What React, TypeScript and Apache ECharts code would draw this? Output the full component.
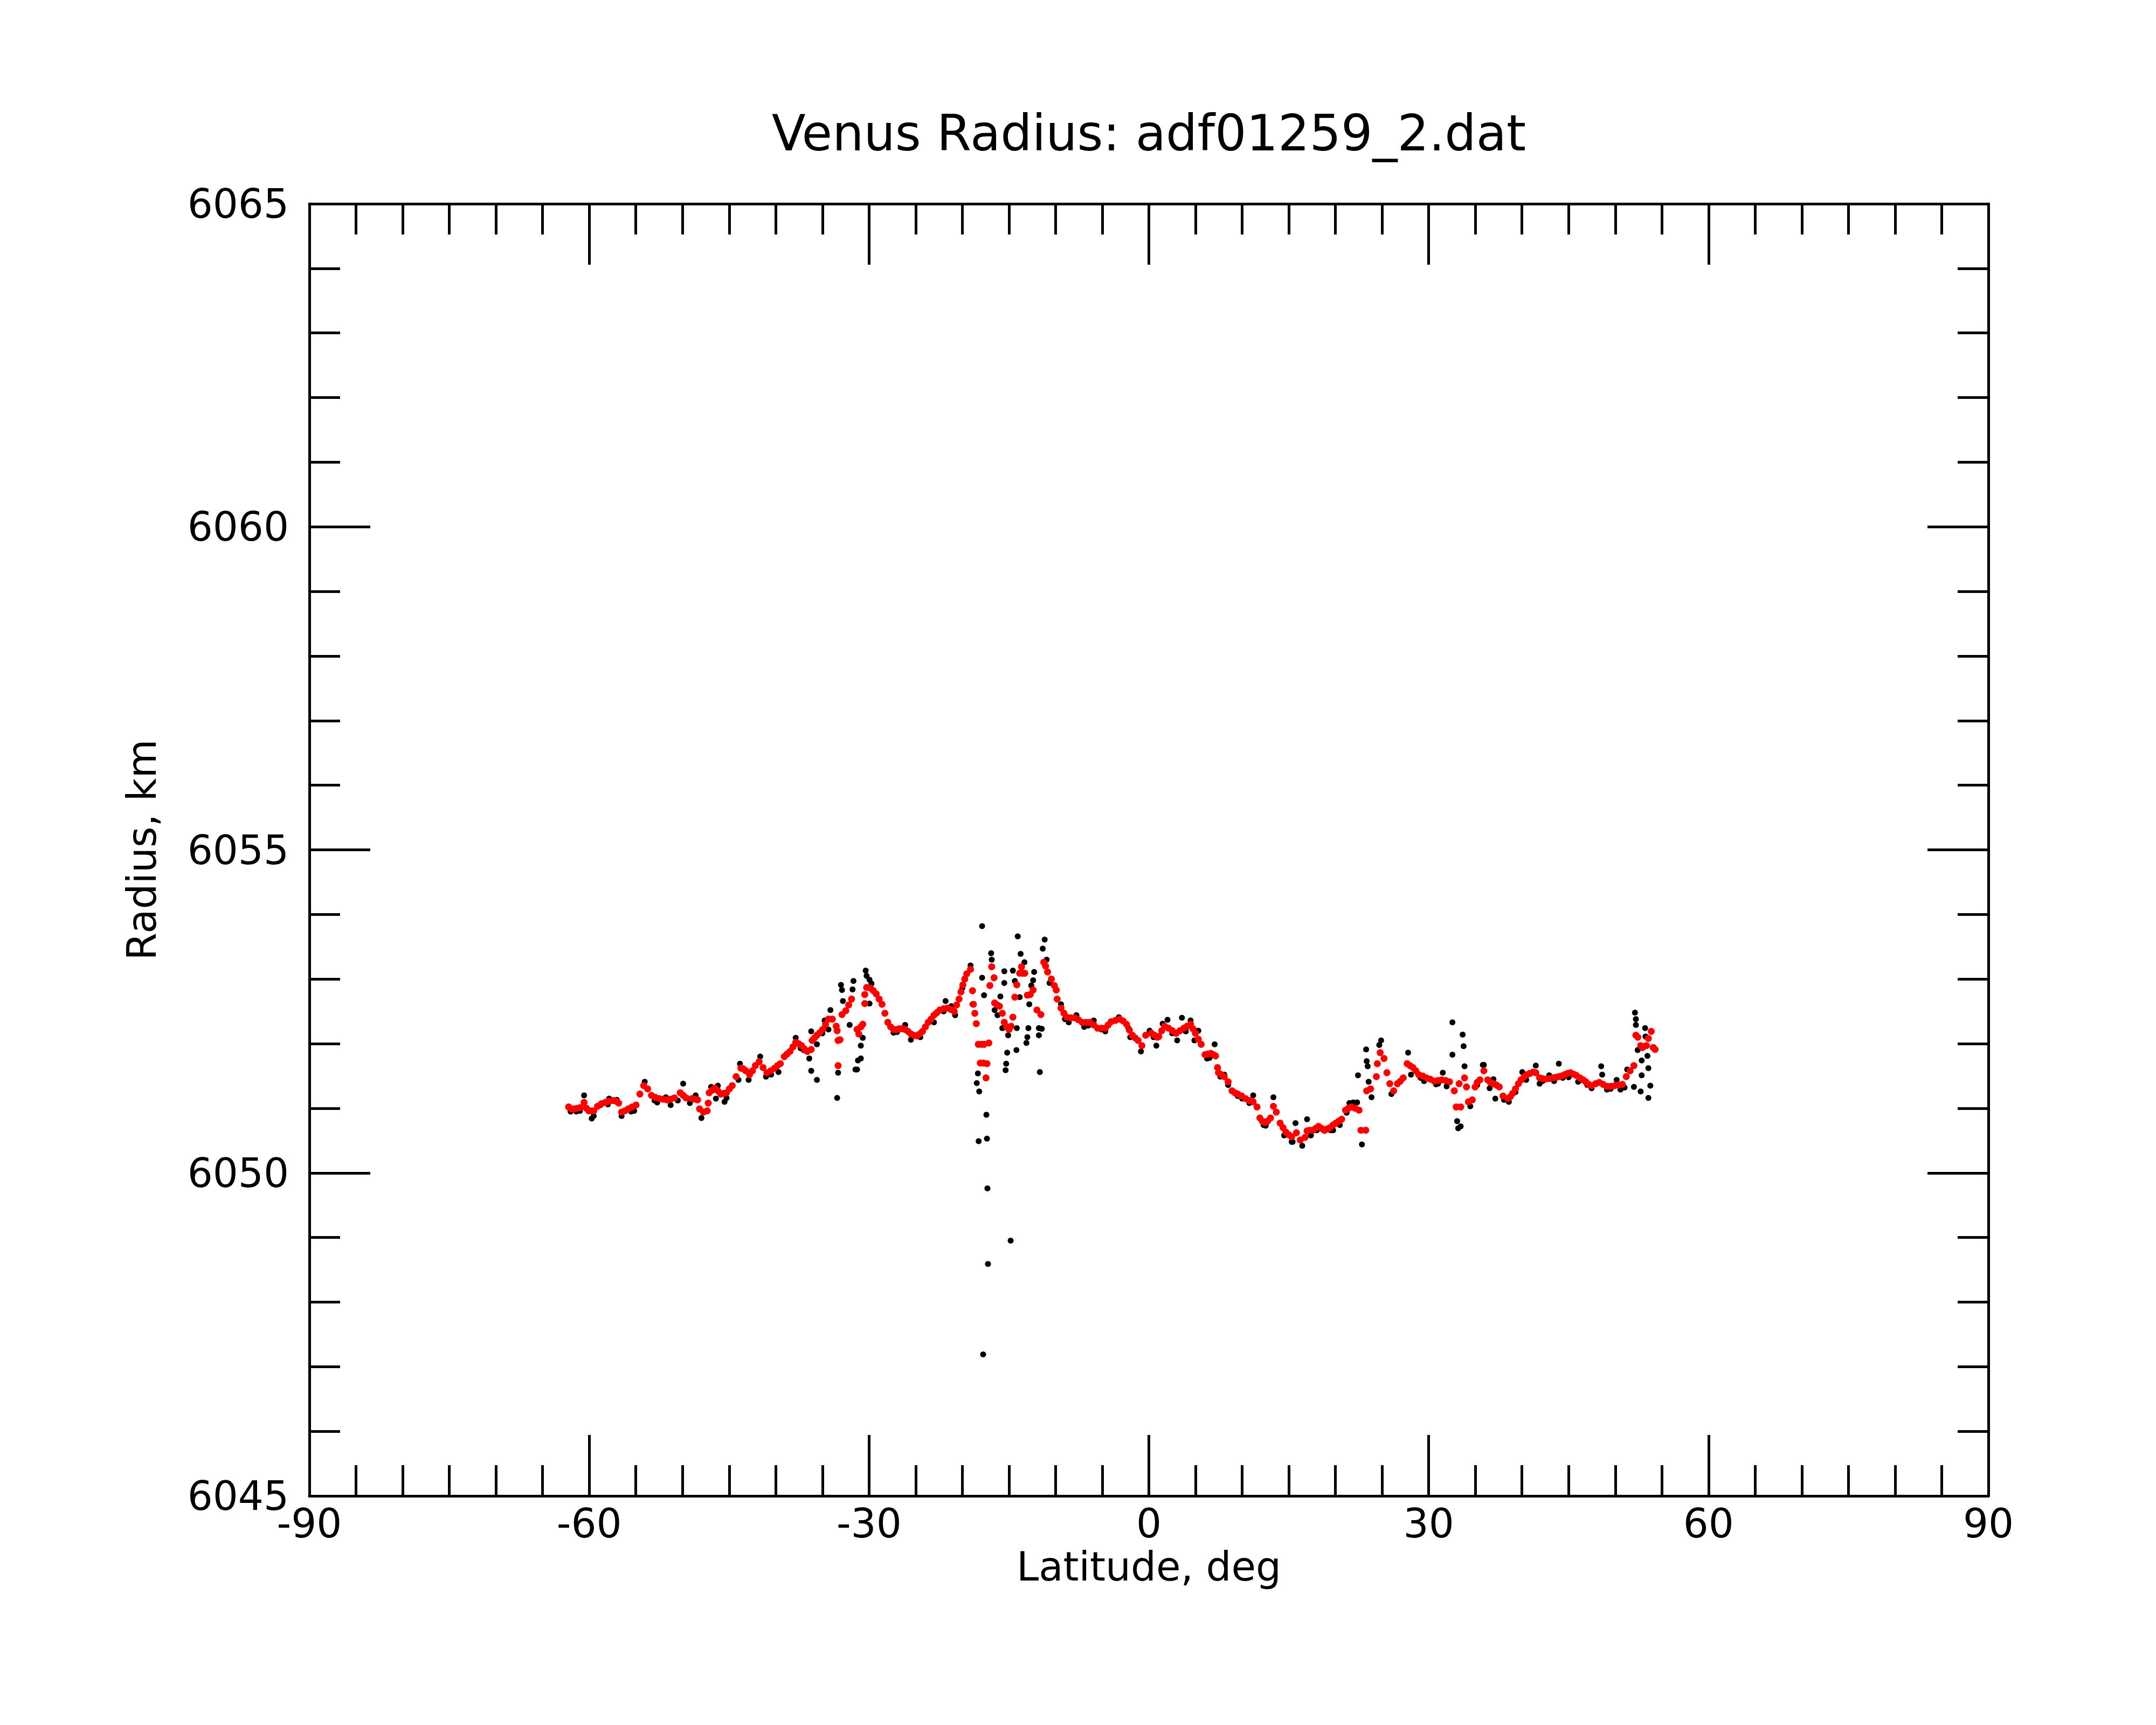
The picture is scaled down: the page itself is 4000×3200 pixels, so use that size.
import React, { useEffect, useRef } from "react";
import * as echarts from "echarts";

const TITLE = "Venus Radius: adf01259_2.dat";
const X_NAME = "Latitude, deg";
const Y_NAME = "Radius, km";
const X_MIN = -90, X_MAX = 90, X_STEP = 30;
const Y_MIN = 6045, Y_MAX = 6065, Y_STEP = 5;

// Smoothed radius (red), [latitude, radius]
const redSouth: number[][] = [
  [-62.21, 6051.02], [-61.9, 6050.99], [-61.59, 6050.99], [-61.28, 6051.0], [-60.97, 6051.01],
  [-60.55, 6051.09], [-60.3, 6051.0], [-60.04, 6050.96], [-59.78, 6050.96], [-59.52, 6050.96],
  [-59.11, 6051.03], [-58.7, 6051.07], [-58.28, 6051.09], [-57.87, 6051.11], [-57.46, 6051.12],
  [-57.15, 6051.11], [-56.84, 6051.08], [-56.53, 6050.94], [-56.17, 6050.96], [-55.81, 6050.99],
  [-55.4, 6051.02], [-54.98, 6051.05], [-54.57, 6051.22], [-54.16, 6051.35], [-53.74, 6051.3],
  [-53.33, 6051.2], [-52.92, 6051.17], [-52.51, 6051.15], [-52.1, 6051.14], [-51.68, 6051.13],
  [-51.27, 6051.14], [-50.86, 6051.16], [-50.24, 6051.24], [-49.93, 6051.2], [-49.62, 6051.16],
  [-49.0, 6051.15], [-48.69, 6051.14], [-48.38, 6051.13], [-48.17, 6050.99], [-47.76, 6050.94],
  [-47.35, 6050.96], [-47.24, 6051.08], [-47.14, 6051.24], [-46.83, 6051.28], [-46.52, 6051.31],
  [-46.21, 6051.27], [-45.9, 6051.22], [-45.59, 6051.23], [-45.28, 6051.24], [-44.98, 6051.3],
  [-44.67, 6051.35], [-44.25, 6051.49], [-43.74, 6051.62], [-43.48, 6051.61], [-43.22, 6051.58],
  [-42.81, 6051.52], [-42.5, 6051.58], [-42.19, 6051.66], [-41.78, 6051.72], [-41.36, 6051.63],
  [-40.95, 6051.55], [-40.54, 6051.58], [-40.13, 6051.62], [-39.82, 6051.66], [-39.51, 6051.69],
  [-39.09, 6051.8], [-38.78, 6051.84], [-38.47, 6051.88], [-38.16, 6051.95], [-37.86, 6052.02],
  [-37.55, 6052.0], [-37.24, 6051.97], [-36.93, 6051.92], [-36.62, 6051.88], [-36.2, 6051.91],
  [-36.1, 6052.05], [-35.84, 6052.09], [-35.59, 6052.13], [-35.28, 6052.17], [-34.97, 6052.22],
  [-34.66, 6052.3], [-34.35, 6052.38], [-33.93, 6052.38], [-33.52, 6052.27], [-33.42, 6052.2],
  [-33.32, 6052.05], [-33.11, 6052.06], [-33.32, 6051.66], [-32.9, 6052.45], [-32.49, 6052.51],
  [-32.18, 6052.6], [-31.87, 6052.69],
];

const redCentral: number[][] = [
  [-31.29, 6052.22], [-31.1, 6052.15], [-30.88, 6052.26], [-30.67, 6052.3], [-30.46, 6052.62],
  [-30.46, 6052.76], [-30.26, 6052.87], [-29.85, 6052.86], [-29.54, 6052.82], [-29.23, 6052.77],
  [-28.92, 6052.69], [-28.61, 6052.61], [-28.3, 6052.47], [-27.99, 6052.33], [-27.68, 6052.26],
  [-27.37, 6052.22], [-27.06, 6052.22], [-26.75, 6052.23], [-26.44, 6052.23], [-26.13, 6052.22],
  [-25.82, 6052.19], [-25.51, 6052.15], [-25.2, 6052.13], [-24.89, 6052.12], [-24.58, 6052.15],
  [-24.27, 6052.19], [-23.96, 6052.26], [-23.66, 6052.33], [-23.35, 6052.38], [-23.04, 6052.44],
  [-22.73, 6052.48], [-22.42, 6052.52], [-22.0, 6052.54], [-21.59, 6052.55], [-21.23, 6052.53],
  [-20.87, 6052.5], [-20.61, 6052.6], [-20.35, 6052.69], [-20.15, 6052.8], [-19.94, 6052.91],
  [-19.74, 6053.0], [-19.53, 6053.08], [-19.12, 6053.15], [-18.91, 6052.82], [-18.81, 6052.61],
  [-18.66, 6052.47], [-18.5, 6052.31], [-18.29, 6051.99], [-17.98, 6051.99], [-17.67, 6051.99],
  [-17.16, 6052.01], [-18.08, 6051.7], [-17.72, 6051.7], [-17.36, 6051.69], [-17.46, 6051.47],
  [-17.05, 6052.9], [-16.85, 6053.19], [-16.6, 6053.02], [-16.54, 6052.63], [-16.28, 6052.6],
  [-16.02, 6052.58], [-15.71, 6052.47], [-15.5, 6052.33], [-15.25, 6052.26], [-14.99, 6052.22],
  [-14.78, 6052.27], [-14.58, 6052.41], [-14.37, 6052.72], [-14.16, 6052.91], [-13.85, 6053.09],
  [-13.65, 6053.19], [-13.54, 6053.09], [-13.3, 6053.09], [-13.03, 6052.75], [-12.72, 6052.76],
  [-12.41, 6052.83], [-12.0, 6052.52], [-11.58, 6052.45], [-11.27, 6053.26], [-11.07, 6053.2],
  [-10.86, 6053.11], [-10.45, 6053.0], [-10.14, 6052.9], [-9.93, 6052.83], [-9.83, 6052.69],
  [-9.42, 6052.55], [-9.11, 6052.47], [-8.8, 6052.41], [-8.38, 6052.4], [-7.97, 6052.4],
  [-7.56, 6052.37], [-7.15, 6052.33], [-6.73, 6052.33], [-6.32, 6052.33], [-5.91, 6052.29],
  [-5.5, 6052.24], [-5.08, 6052.24], [-4.67, 6052.24], [-4.36, 6052.29], [-4.05, 6052.34],
  [-3.59, 6052.36], [-3.12, 6052.38], [-2.76, 6052.35], [-2.4, 6052.3], [-2.09, 6052.21],
  [-1.78, 6052.13], [-1.47, 6052.09], [-1.16, 6052.05], [-0.75, 6051.97], [-0.34, 6052.13],
  [0.28, 6052.16], [0.59, 6052.13], [0.9, 6052.1], [1.07, 6052.11], [1.38, 6052.2],
  [1.69, 6052.27], [2.1, 6052.24], [2.51, 6052.2], [2.92, 6052.16], [3.33, 6052.2],
  [3.75, 6052.24], [4.1, 6052.27], [4.47, 6052.3], [4.73, 6052.23], [4.99, 6052.16],
  [5.3, 6052.07], [5.61, 6051.99], [6.02, 6051.83], [6.33, 6051.84], [6.64, 6051.85],
  [6.9, 6051.83], [7.15, 6051.81], [7.36, 6051.63], [7.46, 6051.55], [7.77, 6051.52],
  [8.08, 6051.49], [8.5, 6051.41], [8.91, 6051.27], [9.22, 6051.24], [9.53, 6051.22],
  [9.94, 6051.19], [10.35, 6051.15], [10.77, 6051.12], [11.18, 6051.1], [11.59, 6051.02],
  [11.9, 6050.85], [12.16, 6050.8], [12.42, 6050.78], [12.73, 6050.8], [13.04, 6050.85],
  [13.35, 6051.03], [13.66, 6050.94], [14.07, 6050.77], [14.38, 6050.7], [14.69, 6050.63],
  [15.0, 6050.59], [15.31, 6050.56], [15.82, 6050.62], [16.23, 6050.51], [16.75, 6050.55],
  [16.96, 6050.65], [17.27, 6050.66], [17.58, 6050.66], [17.89, 6050.69], [18.19, 6050.72],
  [18.5, 6050.69], [18.81, 6050.66], [19.12, 6050.68], [19.43, 6050.7], [19.74, 6050.74],
  [20.05, 6050.77], [20.36, 6050.8], [20.67, 6050.83], [21.08, 6050.97], [21.39, 6051.0],
  [21.7, 6051.02], [22.11, 6051.0], [22.53, 6050.97], [22.73, 6050.66], [23.25, 6050.66],
];

const redNorth: number[][] = [
  [23.35, 6051.27], [23.77, 6051.3], [24.39, 6051.49], [24.49, 6051.69], [24.8, 6051.86],
  [25.21, 6051.77], [25.52, 6051.55], [25.83, 6051.38], [26.24, 6051.27], [26.65, 6051.38],
  [26.96, 6051.42], [27.27, 6051.47], [27.69, 6051.69], [28.0, 6051.66], [28.31, 6051.63],
  [28.62, 6051.58], [28.93, 6051.52], [29.34, 6051.5], [29.75, 6051.47], [30.16, 6051.45],
  [30.58, 6051.42], [30.99, 6051.43], [31.4, 6051.44], [31.81, 6051.43], [32.23, 6051.41],
  [32.74, 6051.27], [32.95, 6051.02], [33.26, 6051.38], [33.43, 6051.02], [33.84, 6051.47],
  [34.05, 6051.33], [34.26, 6051.1], [34.67, 6051.13], [34.98, 6051.33], [35.2, 6051.4],
  [35.49, 6051.44], [35.91, 6051.58], [36.32, 6051.44], [36.6, 6051.4], [36.94, 6051.38],
  [37.25, 6051.36], [37.56, 6051.33], [37.97, 6051.19], [38.49, 6051.15], [38.75, 6051.18],
  [39.0, 6051.23], [39.3, 6051.3], [39.62, 6051.38], [39.9, 6051.44], [40.24, 6051.49],
  [40.55, 6051.52], [40.86, 6051.54], [41.2, 6051.56], [41.48, 6051.55], [41.89, 6051.47],
  [42.2, 6051.46], [42.51, 6051.45], [42.9, 6051.46], [43.34, 6051.47], [43.65, 6051.48],
  [43.95, 6051.49], [44.25, 6051.5], [44.57, 6051.52], [44.9, 6051.54], [45.19, 6051.55],
  [45.5, 6051.53], [45.81, 6051.51], [46.22, 6051.47], [46.55, 6051.44], [46.84, 6051.41],
  [47.15, 6051.37], [47.46, 6051.35], [47.9, 6051.38], [48.29, 6051.4], [48.7, 6051.37],
  [49.11, 6051.34], [49.5, 6051.34], [49.94, 6051.35], [50.35, 6051.36], [50.76, 6051.37],
  [51.18, 6051.49], [51.59, 6051.58], [52.0, 6051.66], [52.21, 6052.13], [52.42, 6052.1],
  [52.72, 6051.97], [52.93, 6051.94], [53.34, 6051.97], [53.55, 6052.08], [53.86, 6052.19],
  [54.07, 6051.94], [54.27, 6051.91],
];

// Individual measurements (black) along the track, [latitude, radius]
const blackTrack: number[][] = [
  [-62.0, 6050.95], [-61.38, 6050.95], [-61.0, 6050.96], [-60.55, 6051.2], [-59.73, 6050.84],
  [-59.52, 6050.88], [-58.8, 6051.05], [-58.0, 6051.06], [-57.87, 6051.15], [-57.05, 6051.13],
  [-56.53, 6050.88], [-55.5, 6050.95], [-55.19, 6050.96], [-54.05, 6051.41], [-53.0, 6051.12],
  [-52.71, 6051.09], [-51.78, 6051.17], [-51.27, 6051.05], [-50.5, 6051.12], [-49.93, 6051.38],
  [-49.21, 6051.08], [-48.59, 6051.2], [-47.97, 6050.85], [-46.93, 6051.33], [-46.42, 6051.15],
  [-46.21, 6051.35], [-45.49, 6051.1], [-45.28, 6051.16], [-44.0, 6051.44], [-43.84, 6051.69],
  [-42.91, 6051.44], [-41.67, 6051.8], [-41.05, 6051.49], [-40.5, 6051.52], [-39.71, 6051.56],
  [-38.89, 6051.83], [-37.86, 6052.09], [-37.34, 6051.93], [-37.0, 6051.9], [-36.41, 6051.77],
  [-36.2, 6052.19], [-35.59, 6051.99], [-35.0, 6052.16], [-34.76, 6052.36], [-34.14, 6052.52],
  [-34.35, 6052.22], [-27.37, 6052.17], [-27.0, 6052.18], [-26.13, 6052.29], [-25.51, 6052.06],
  [-24.5, 6052.1], [-23.04, 6052.33], [-22.0, 6052.5], [-21.8, 6052.66], [-21.18, 6052.58],
  [-20.77, 6052.44], [-20.0, 6052.86], [-19.12, 6053.21], [-9.42, 6052.61], [-9.0, 6052.38],
  [-8.59, 6052.33], [-7.77, 6052.44], [-6.94, 6052.26], [-6.5, 6052.28], [-5.91, 6052.36],
  [-5.08, 6052.22], [-4.67, 6052.19], [-3.22, 6052.41], [-2.2, 6052.24], [-2.0, 6052.1],
  [-0.85, 6051.88], [0.08, 6052.2], [0.5, 6052.1], [0.8, 6051.97], [1.48, 6052.31],
  [2.0, 6052.37], [2.5, 6052.16], [3.03, 6052.05], [3.96, 6052.19], [4.47, 6052.36],
  [5.3, 6052.2], [6.23, 6051.77], [6.5, 6051.78], [7.67, 6051.49], [8.09, 6051.52],
  [8.5, 6051.36], [9.53, 6051.19], [10.0, 6051.15], [10.77, 6051.08], [12.3, 6050.74],
  [12.52, 6050.73], [14.5, 6050.58], [15.31, 6050.48], [16.44, 6050.42], [17.37, 6050.58],
  [18.0, 6050.66], [18.82, 6050.65], [19.5, 6050.66], [19.75, 6050.66], [20.47, 6050.74],
  [21.2, 6050.93], [21.5, 6051.08], [26.0, 6051.22], [28.1, 6051.52], [29.13, 6051.47],
  [29.5, 6051.42], [30.79, 6051.37], [31.0, 6051.38], [31.51, 6051.55], [31.92, 6051.34],
  [34.46, 6051.03], [35.2, 6051.36], [35.91, 6051.67], [36.53, 6051.31], [38.07, 6051.13],
  [38.59, 6051.1], [39.3, 6051.25], [40.45, 6051.44], [41.89, 6051.38], [42.2, 6051.42],
  [42.92, 6051.51], [43.44, 6051.42], [44.37, 6051.47], [45.0, 6051.48], [46.02, 6051.41],
  [47.0, 6051.36], [47.46, 6051.31], [49.11, 6051.29], [49.5, 6051.3], [50.15, 6051.44],
  [50.56, 6051.29], [51.0, 6051.32], [51.28, 6051.6], [52.4, 6051.9],
];

// Individual measurements (black) away from the smoothed track
const blackScatter: number[][] = [
  [-36.2, 6051.58], [-35.59, 6051.44], [-33.42, 6051.16], [-33.32, 6051.55], [-33.01, 6052.91],
  [-32.9, 6052.83], [-32.8, 6052.66], [-32.08, 6052.29], [-31.77, 6052.84], [-31.67, 6052.97],
  [-31.46, 6051.6], [-31.29, 6051.6], [-31.19, 6051.74], [-30.88, 6051.77], [-30.88, 6051.97],
  [-30.67, 6052.09], [-30.36, 6053.13], [-30.26, 6053.05], [-29.95, 6052.99], [-29.74, 6052.93],
  [-29.95, 6052.62], [-18.91, 6052.61], [-18.45, 6051.39], [-18.33, 6051.54], [-18.25, 6050.49],
  [-18.19, 6051.26], [-17.88, 6053.82], [-17.88, 6053.02], [-17.77, 6047.19], [-17.67, 6052.75],
  [-17.42, 6050.9], [-17.36, 6050.53], [-17.31, 6049.76], [-17.25, 6048.59], [-16.91, 6053.4],
  [-16.85, 6053.3], [-16.54, 6052.52], [-16.23, 6052.44], [-15.92, 6052.73], [-15.71, 6052.24],
  [-15.5, 6053.12], [-15.5, 6052.94], [-15.36, 6051.59], [-15.3, 6051.69], [-15.19, 6051.86],
  [-15.09, 6052.13], [-14.82, 6048.95], [-14.58, 6053.13], [-14.37, 6052.97], [-14.2, 6051.9],
  [-14.16, 6052.24], [-14.06, 6053.66], [-13.85, 6052.72], [-13.75, 6053.39], [-13.34, 6053.26],
  [-13.13, 6052.01], [-13.03, 6052.1], [-12.92, 6052.24], [-12.82, 6052.61], [-12.61, 6052.9],
  [-12.41, 6052.98], [-12.3, 6053.11], [-11.79, 6052.24], [-11.79, 6052.13], [-11.69, 6051.56],
  [-11.48, 6052.23], [-11.38, 6053.47], [-11.17, 6053.61], [-10.96, 6053.3], [-10.65, 6052.94],
  [3.54, 6052.4], [4.88, 6052.05], [7.05, 6051.99], [11.18, 6051.2], [13.35, 6051.17],
  [15.41, 6050.48], [15.72, 6050.77], [16.96, 6050.83], [21.91, 6051.09], [22.32, 6051.09],
  [22.42, 6051.51], [22.84, 6050.44], [23.29, 6051.91], [23.35, 6051.73], [23.46, 6051.65],
  [23.56, 6051.41], [23.87, 6051.17], [24.7, 6051.98], [24.9, 6052.05], [27.79, 6051.86],
  [32.54, 6052.33], [32.54, 6051.83], [33.05, 6050.8], [33.16, 6050.69], [33.43, 6050.72],
  [33.64, 6052.14], [33.74, 6051.96], [33.84, 6051.65], [35.8, 6051.67], [36.94, 6051.45],
  [37.14, 6051.15], [40.03, 6051.56], [41.48, 6051.66], [43.95, 6051.69], [48.49, 6051.65],
  [48.6, 6051.52], [52.0, 6051.33], [52.11, 6052.48], [52.21, 6052.38], [52.21, 6052.29],
  [52.72, 6051.26], [52.83, 6051.74], [52.83, 6051.51], [53.2, 6052.24], [53.24, 6052.11],
  [53.45, 6051.81], [53.55, 6051.62], [53.55, 6051.16], [53.76, 6051.35],
];

const FONT = "DejaVu Sans";

// Layout (pixels)
const W = 4000, H = 3200;
const GRID = { left: 574, top: 378, right: 311, bottom: 425 };
const LINE_W = 5;
const MAJOR_LEN = 113, MINOR_LEN = 57;

function axisCommon(splitMinor: number, interval: number, min: number, max: number) {
  return {
    min, max, interval,
    axisLine: { show: true, onZero: false, lineStyle: { color: "#000", width: LINE_W } },
    axisTick: { show: true, inside: true, length: MAJOR_LEN, lineStyle: { color: "#000", width: LINE_W } },
    minorTick: { show: true, splitNumber: splitMinor, length: MINOR_LEN, lineStyle: { color: "#000", width: LINE_W } },
    splitLine: { show: false },
    minorSplitLine: { show: false },
  };
}

export default function App() {
  const ref = useRef<HTMLDivElement>(null);
  useEffect(() => {
    if (!ref.current) return;
    const chart = echarts.init(ref.current, undefined, { renderer: "svg" });
    const labelStyle = {
      color: "#000", fontSize: 74, fontFamily: FONT,
      formatter: (v: number) => String(v),
    };
    const plotCx = GRID.left + (W - GRID.left - GRID.right) / 2;
    const plotCy = GRID.top + (H - GRID.top - GRID.bottom) / 2;
    chart.setOption({
      animation: false,
      backgroundColor: "#fff",
      grid: { ...GRID, containLabel: false },
      xAxis: [
        {
          type: "value", position: "bottom",
          ...axisCommon(6, X_STEP, X_MIN, X_MAX),
          axisLabel: { ...labelStyle, margin: 14 },
        },
        {
          type: "value", position: "top",
          ...axisCommon(6, X_STEP, X_MIN, X_MAX),
          axisLabel: { show: false },
        },
      ],
      yAxis: [
        {
          type: "value", position: "left",
          ...axisCommon(5, Y_STEP, Y_MIN, Y_MAX),
          axisLabel: { ...labelStyle, margin: 38 },
        },
        {
          type: "value", position: "right",
          ...axisCommon(5, Y_STEP, Y_MIN, Y_MAX),
          axisLabel: { show: false },
        },
      ],
      graphic: [
        {
          type: "text", x: plotCx, y: 247,
          style: { text: TITLE, fill: "#000", font: `92px "${FONT}"`, textAlign: "center", textVerticalAlign: "middle" },
        },
        {
          type: "text", x: plotCx, y: 2906,
          style: { text: X_NAME, fill: "#000", font: `74px "${FONT}"`, textAlign: "center", textVerticalAlign: "middle" },
        },
        {
          type: "text", x: 263, y: plotCy, rotation: Math.PI / 2,
          style: { text: Y_NAME, fill: "#000", font: `74px "${FONT}"`, textAlign: "center", textVerticalAlign: "middle" },
        },
      ],
      series: [
        {
          type: "scatter", name: "measured", xAxisIndex: 0, yAxisIndex: 0,
          data: [...blackTrack, ...blackScatter],
          symbol: "circle", symbolSize: 11,
          itemStyle: { color: "#000", opacity: 1 },
          silent: true,
        },
        {
          type: "scatter", name: "smoothed", xAxisIndex: 0, yAxisIndex: 0,
          data: [...redSouth, ...redCentral, ...redNorth],
          symbol: "circle", symbolSize: 13,
          itemStyle: { color: "#ff0000", opacity: 1 },
          silent: true,
        },
      ],
    });
    return () => chart.dispose();
  }, []);
  return (
    <div
      ref={ref}
      style={{ position: "absolute", left: 0, top: 0, width: W, height: H, background: "#fff" }}
    />
  );
}
